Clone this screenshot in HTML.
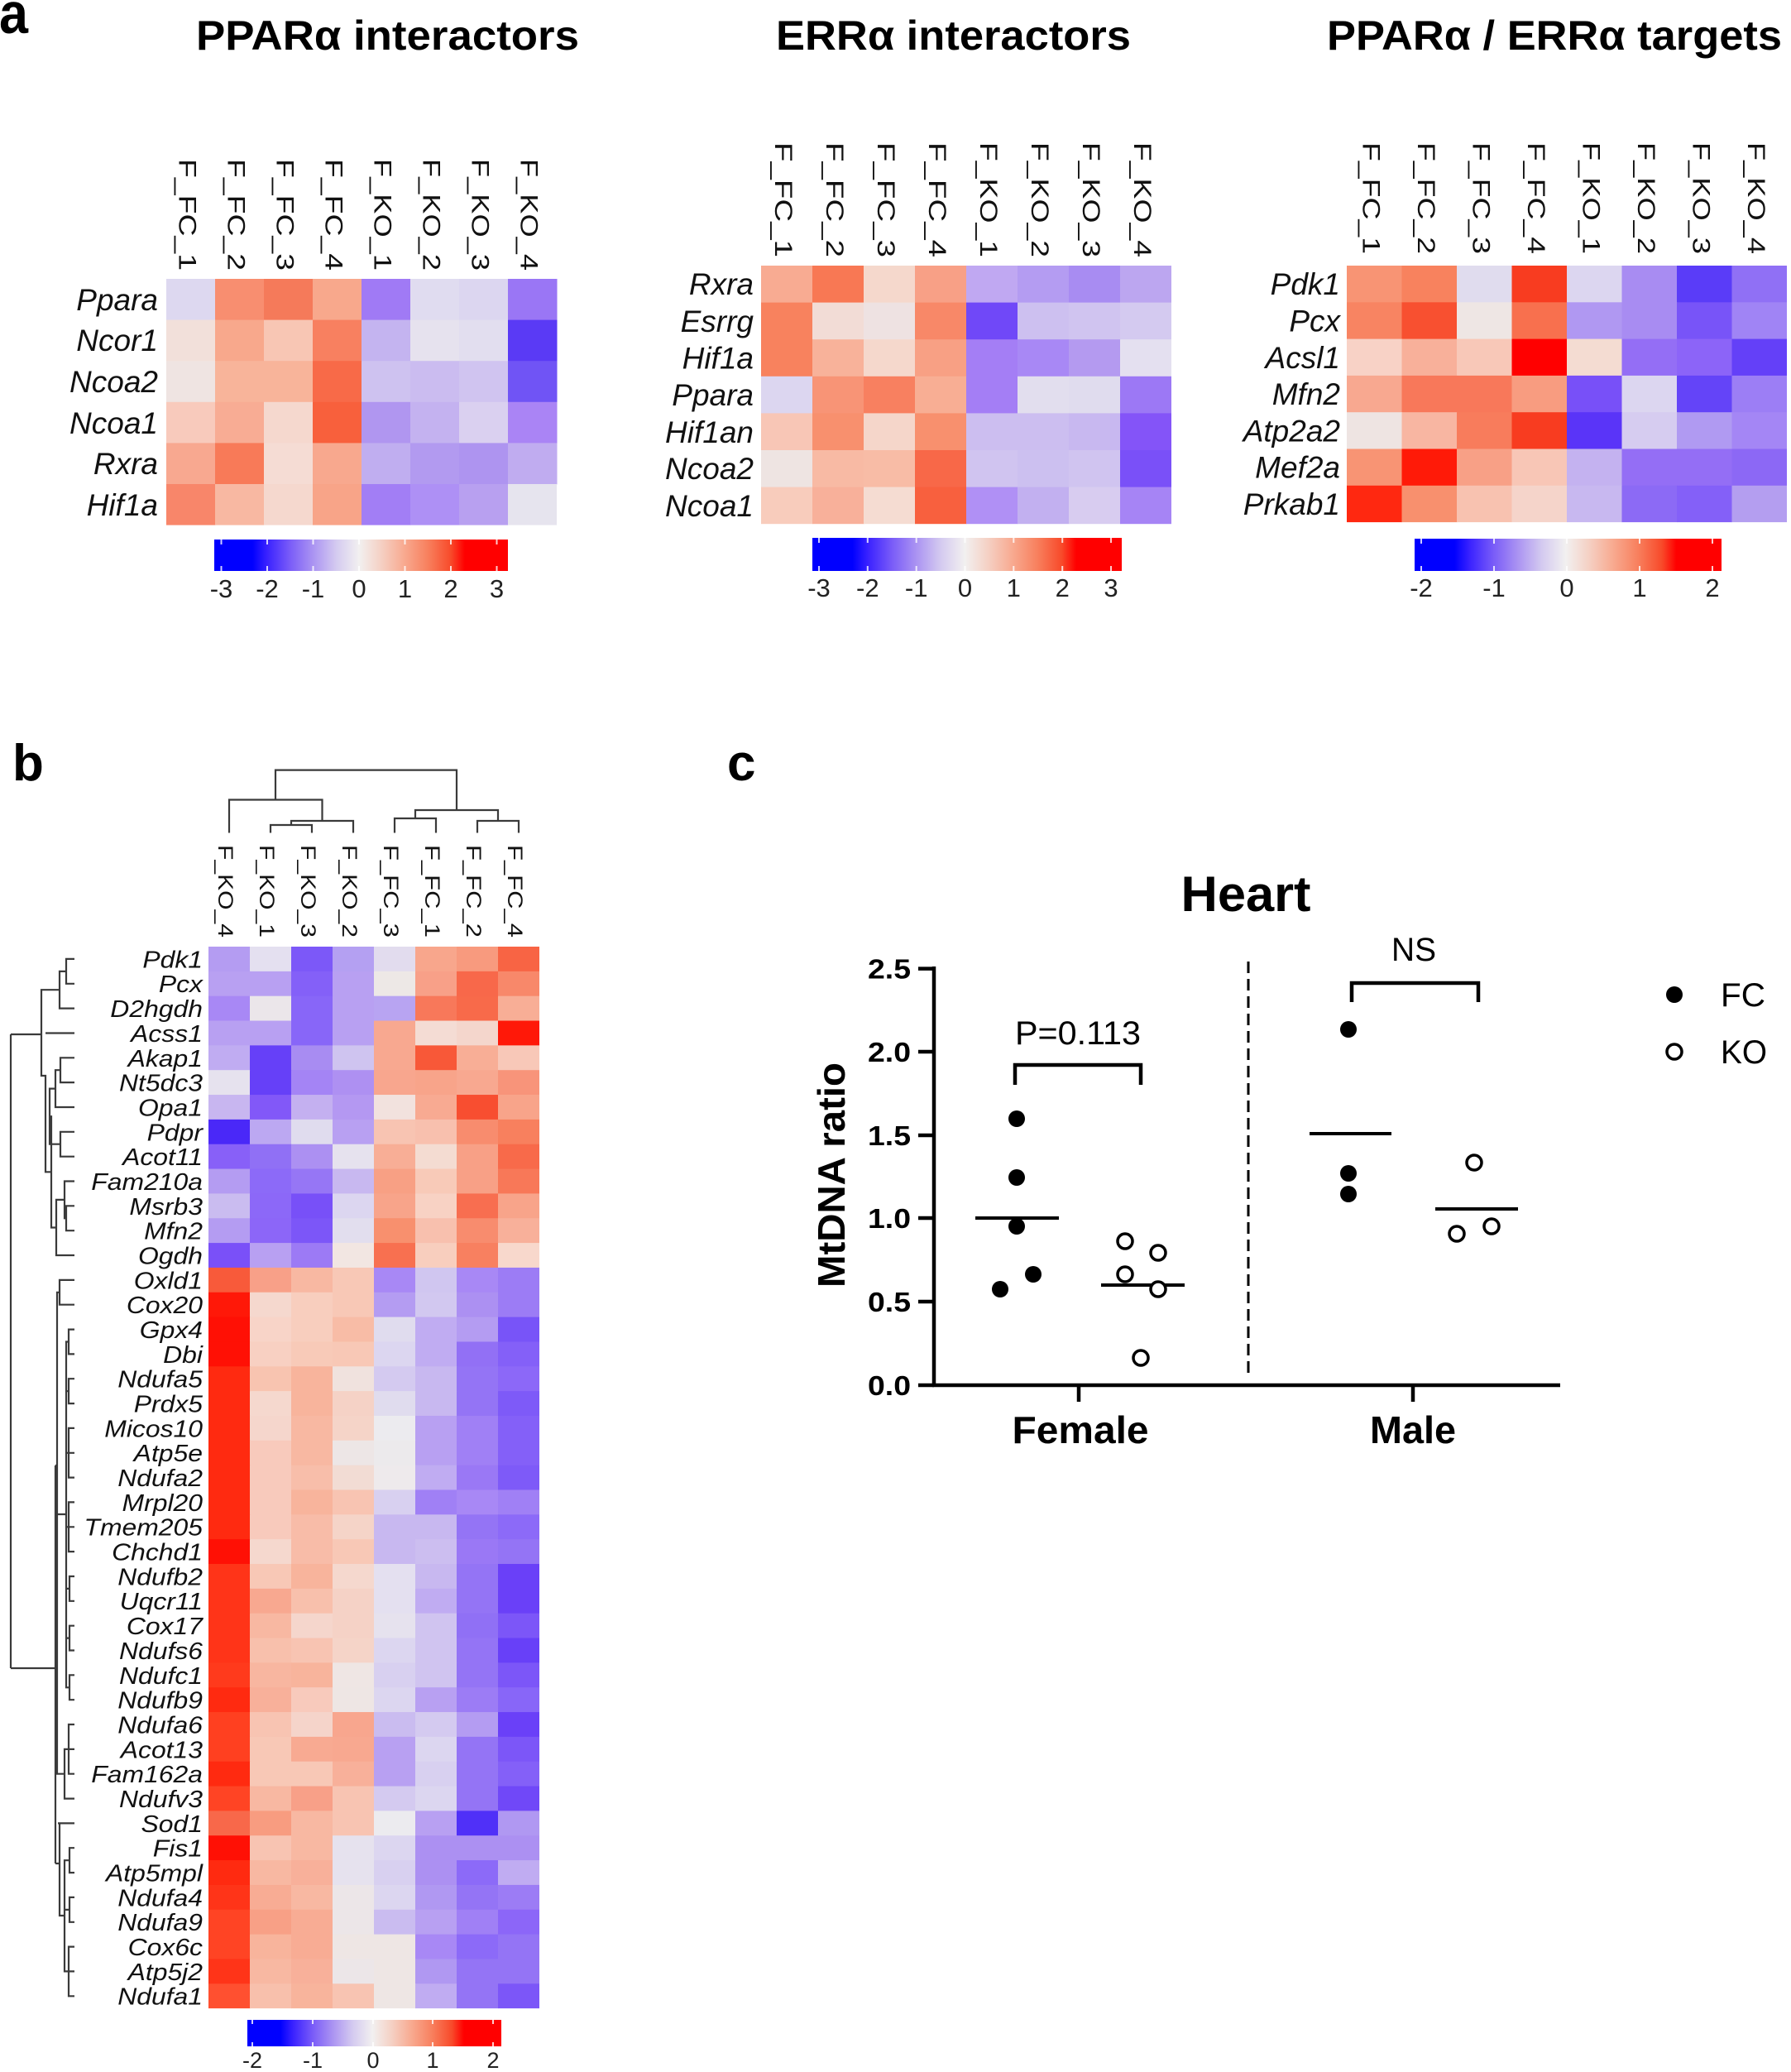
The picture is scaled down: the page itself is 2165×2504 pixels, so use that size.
<!DOCTYPE html>
<html><head><meta charset="utf-8"><style>
html,body{margin:0;padding:0;background:#fff}
svg{display:block}
text{font-family:"Liberation Sans",Arial,sans-serif}
</style></head><body>
<svg xmlns="http://www.w3.org/2000/svg" width="2165" height="2504" viewBox="0 0 2165 2504">
<defs>
<linearGradient id="cb" x1="0" y1="0" x2="1" y2="0">
<stop offset="0" stop-color="#0000ff"/><stop offset="0.13" stop-color="#0000ff"/><stop offset="0.18" stop-color="#3a22ff"/><stop offset="0.258" stop-color="#7a5cf8"/><stop offset="0.337" stop-color="#ab94f2"/><stop offset="0.415" stop-color="#d4caf0"/><stop offset="0.493" stop-color="#f2f0f0"/><stop offset="0.571" stop-color="#f5cfc2"/><stop offset="0.65" stop-color="#f8a88e"/><stop offset="0.727" stop-color="#f8805e"/><stop offset="0.806" stop-color="#f84a2a"/><stop offset="0.853" stop-color="#ff0000"/><stop offset="1" stop-color="#ff0000"/>
</linearGradient>
</defs>
<rect width="2165" height="2504" fill="#fff"/>

<!-- panel labels & titles -->
<text x="-1" y="40" font-size="70" font-weight="bold" textLength="35" lengthAdjust="spacingAndGlyphs">a</text>
<text x="15" y="943" font-size="62" font-weight="bold">b</text>
<text x="879" y="943" font-size="62" font-weight="bold">c</text>
<text x="237" y="60" font-size="50" font-weight="bold" textLength="463" lengthAdjust="spacingAndGlyphs">PPARα interactors</text>
<text x="938" y="60" font-size="50" font-weight="bold" textLength="429" lengthAdjust="spacingAndGlyphs">ERRα interactors</text>
<text x="1604" y="60" font-size="50" font-weight="bold" textLength="550" lengthAdjust="spacingAndGlyphs">PPARα / ERRα targets</text>

<!-- Heatmap 1 -->
<g transform="translate(201,337)">
<g><rect x="0" y="0" width="59.5" height="50" fill="#ddd8f0"/><rect x="59" y="0" width="59.5" height="50" fill="#f88e70"/><rect x="118" y="0" width="59.5" height="50" fill="#f57a5a"/><rect x="177" y="0" width="59.5" height="50" fill="#f8a88c"/><rect x="236" y="0" width="59.5" height="50" fill="#a07af5"/><rect x="295" y="0" width="59.5" height="50" fill="#e0dcf0"/><rect x="354" y="0" width="59.5" height="50" fill="#dcd6f0"/><rect x="413" y="0" width="59.5" height="50" fill="#9a76f5"/></g>
<g transform="translate(0,49.6)"><rect x="0" y="0" width="59.5" height="50" fill="#f2e0da"/><rect x="59" y="0" width="59.5" height="50" fill="#f8a88c"/><rect x="118" y="0" width="59.5" height="50" fill="#f8c6b4"/><rect x="177" y="0" width="59.5" height="50" fill="#f88060"/><rect x="236" y="0" width="59.5" height="50" fill="#c4b4f0"/><rect x="295" y="0" width="59.5" height="50" fill="#e6e2ee"/><rect x="354" y="0" width="59.5" height="50" fill="#e2deef"/><rect x="413" y="0" width="59.5" height="50" fill="#5a3af5"/></g>
<g transform="translate(0,99.2)"><rect x="0" y="0" width="59.5" height="50" fill="#efe4e2"/><rect x="59" y="0" width="59.5" height="50" fill="#f8b49a"/><rect x="118" y="0" width="59.5" height="50" fill="#f8b49a"/><rect x="177" y="0" width="59.5" height="50" fill="#f86a48"/><rect x="236" y="0" width="59.5" height="50" fill="#cec2f0"/><rect x="295" y="0" width="59.5" height="50" fill="#cbbcf0"/><rect x="354" y="0" width="59.5" height="50" fill="#d0c4f0"/><rect x="413" y="0" width="59.5" height="50" fill="#7054f5"/></g>
<g transform="translate(0,148.8)"><rect x="0" y="0" width="59.5" height="50" fill="#f8cabc"/><rect x="59" y="0" width="59.5" height="50" fill="#f8ac94"/><rect x="118" y="0" width="59.5" height="50" fill="#f5d8ce"/><rect x="177" y="0" width="59.5" height="50" fill="#f8603c"/><rect x="236" y="0" width="59.5" height="50" fill="#b096f0"/><rect x="295" y="0" width="59.5" height="50" fill="#c4b2f0"/><rect x="354" y="0" width="59.5" height="50" fill="#dad0f0"/><rect x="413" y="0" width="59.5" height="50" fill="#aa84f5"/></g>
<g transform="translate(0,198.4)"><rect x="0" y="0" width="59.5" height="50" fill="#f8a890"/><rect x="59" y="0" width="59.5" height="50" fill="#f87a58"/><rect x="118" y="0" width="59.5" height="50" fill="#f5dcd4"/><rect x="177" y="0" width="59.5" height="50" fill="#f8a88e"/><rect x="236" y="0" width="59.5" height="50" fill="#c0aef0"/><rect x="295" y="0" width="59.5" height="50" fill="#b29af0"/><rect x="354" y="0" width="59.5" height="50" fill="#ae94f0"/><rect x="413" y="0" width="59.5" height="50" fill="#c0acf0"/></g>
<g transform="translate(0,248)"><rect x="0" y="0" width="59.5" height="49.6" fill="#f8866a"/><rect x="59" y="0" width="59.5" height="49.6" fill="#f8b8a2"/><rect x="118" y="0" width="59.5" height="49.6" fill="#f5d8ce"/><rect x="177" y="0" width="59.5" height="49.6" fill="#f8a488"/><rect x="236" y="0" width="59.5" height="49.6" fill="#a27ef5"/><rect x="295" y="0" width="59.5" height="49.6" fill="#ae90f5"/><rect x="354" y="0" width="59.5" height="49.6" fill="#b8a0f0"/><rect x="413" y="0" width="59" height="49.6" fill="#e6e4ee"/></g>
</g>
<g font-size="37" font-style="italic" text-anchor="end" fill="#111">
<text x="191" y="375">Ppara</text><text x="191" y="424">Ncor1</text><text x="191" y="474">Ncoa2</text><text x="191" y="524">Ncoa1</text><text x="191" y="573">Rxra</text><text x="191" y="623">Hif1a</text>
</g>
<g font-size="30" text-anchor="end" fill="#111">
<text transform="translate(216.5,327) rotate(90)" textLength="135" lengthAdjust="spacingAndGlyphs">F_FC_1</text>
<text transform="translate(275.5,327) rotate(90)" textLength="135" lengthAdjust="spacingAndGlyphs">F_FC_2</text>
<text transform="translate(334.5,327) rotate(90)" textLength="135" lengthAdjust="spacingAndGlyphs">F_FC_3</text>
<text transform="translate(393.5,327) rotate(90)" textLength="135" lengthAdjust="spacingAndGlyphs">F_FC_4</text>
<text transform="translate(452.5,327) rotate(90)" textLength="135" lengthAdjust="spacingAndGlyphs">F_KO_1</text>
<text transform="translate(511.5,327) rotate(90)" textLength="135" lengthAdjust="spacingAndGlyphs">F_KO_2</text>
<text transform="translate(570.5,327) rotate(90)" textLength="135" lengthAdjust="spacingAndGlyphs">F_KO_3</text>
<text transform="translate(629.5,327) rotate(90)" textLength="135" lengthAdjust="spacingAndGlyphs">F_KO_4</text>
</g>
<rect x="259" y="652" width="355" height="38" fill="url(#cb)"/>
<g stroke="#fff" stroke-width="2" opacity="0.8">
<path d="M267.5 652v6M323 652v6M378.5 652v6M434 652v6M489.5 652v6M545 652v6M600.5 652v6M267.5 690v-6M323 690v-6M378.5 690v-6M434 690v-6M489.5 690v-6M545 690v-6M600.5 690v-6"/>
</g>
<g font-size="31" text-anchor="middle" fill="#222">
<text x="267.5" y="722">-3</text><text x="323" y="722">-2</text><text x="378.5" y="722">-1</text><text x="434" y="722">0</text><text x="489.5" y="722">1</text><text x="545" y="722">2</text><text x="600.5" y="722">3</text>
</g>

<!-- Heatmap 2 -->
<g transform="translate(920,321)">
<g><rect x="0" y="0" width="62.5" height="45.1" fill="#f8ab92"/><rect x="62" y="0" width="62.5" height="45.1" fill="#f87854"/><rect x="124" y="0" width="62.5" height="45.1" fill="#f5d8cc"/><rect x="186" y="0" width="62.5" height="45.1" fill="#f8a086"/><rect x="248" y="0" width="62.5" height="45.1" fill="#c0a8f2"/><rect x="310" y="0" width="62.5" height="45.1" fill="#b49cf2"/><rect x="372" y="0" width="62.5" height="45.1" fill="#a88cf2"/><rect x="434" y="0" width="62" height="45.1" fill="#bca6f0"/></g>
<g transform="translate(0,44.6)"><rect x="0" y="0" width="62.5" height="45.1" fill="#f8825e"/><rect x="62" y="0" width="62.5" height="45.1" fill="#f2dcd6"/><rect x="124" y="0" width="62.5" height="45.1" fill="#eee2e2"/><rect x="186" y="0" width="62.5" height="45.1" fill="#f88868"/><rect x="248" y="0" width="62.5" height="45.1" fill="#7048f8"/><rect x="310" y="0" width="62.5" height="45.1" fill="#cdc0f0"/><rect x="372" y="0" width="62.5" height="45.1" fill="#d0c4f0"/><rect x="434" y="0" width="62" height="45.1" fill="#d4caf0"/></g>
<g transform="translate(0,89.2)"><rect x="0" y="0" width="62.5" height="45.1" fill="#f8825e"/><rect x="62" y="0" width="62.5" height="45.1" fill="#f8b29a"/><rect x="124" y="0" width="62.5" height="45.1" fill="#f5d8cc"/><rect x="186" y="0" width="62.5" height="45.1" fill="#f8a084"/><rect x="248" y="0" width="62.5" height="45.1" fill="#a47ef5"/><rect x="310" y="0" width="62.5" height="45.1" fill="#a888f5"/><rect x="372" y="0" width="62.5" height="45.1" fill="#b49af0"/><rect x="434" y="0" width="62" height="45.1" fill="#e4e0f0"/></g>
<g transform="translate(0,133.8)"><rect x="0" y="0" width="62.5" height="45.1" fill="#dcd6f0"/><rect x="62" y="0" width="62.5" height="45.1" fill="#f89476"/><rect x="124" y="0" width="62.5" height="45.1" fill="#f88060"/><rect x="186" y="0" width="62.5" height="45.1" fill="#f8ae94"/><rect x="248" y="0" width="62.5" height="45.1" fill="#a47ef5"/><rect x="310" y="0" width="62.5" height="45.1" fill="#e2deee"/><rect x="372" y="0" width="62.5" height="45.1" fill="#e0dcee"/><rect x="434" y="0" width="62" height="45.1" fill="#9c78f5"/></g>
<g transform="translate(0,178.4)"><rect x="0" y="0" width="62.5" height="45.1" fill="#f8c6b6"/><rect x="62" y="0" width="62.5" height="45.1" fill="#f8906e"/><rect x="124" y="0" width="62.5" height="45.1" fill="#f5d6ca"/><rect x="186" y="0" width="62.5" height="45.1" fill="#f8906e"/><rect x="248" y="0" width="62.5" height="45.1" fill="#ccbef0"/><rect x="310" y="0" width="62.5" height="45.1" fill="#ccbef0"/><rect x="372" y="0" width="62.5" height="45.1" fill="#c8b8f0"/><rect x="434" y="0" width="62" height="45.1" fill="#8454f8"/></g>
<g transform="translate(0,223)"><rect x="0" y="0" width="62.5" height="45.1" fill="#eee4e2"/><rect x="62" y="0" width="62.5" height="45.1" fill="#f8baa4"/><rect x="124" y="0" width="62.5" height="45.1" fill="#f8bca6"/><rect x="186" y="0" width="62.5" height="45.1" fill="#f86848"/><rect x="248" y="0" width="62.5" height="45.1" fill="#d0c4f0"/><rect x="310" y="0" width="62.5" height="45.1" fill="#ccc0f0"/><rect x="372" y="0" width="62.5" height="45.1" fill="#d0c4f0"/><rect x="434" y="0" width="62" height="45.1" fill="#7a50f8"/></g>
<g transform="translate(0,267.6)"><rect x="0" y="0" width="62.5" height="44.6" fill="#f8ccbc"/><rect x="62" y="0" width="62.5" height="44.6" fill="#f8b09a"/><rect x="124" y="0" width="62.5" height="44.6" fill="#f5dcd2"/><rect x="186" y="0" width="62.5" height="44.6" fill="#f8603e"/><rect x="248" y="0" width="62.5" height="44.6" fill="#b090f5"/><rect x="310" y="0" width="62.5" height="44.6" fill="#c2b0f0"/><rect x="372" y="0" width="62.5" height="44.6" fill="#d8ccf0"/><rect x="434" y="0" width="62" height="44.6" fill="#a684f5"/></g>
</g>
<g font-size="37" font-style="italic" text-anchor="end" fill="#111">
<text x="911" y="356">Rxra</text><text x="911" y="401">Esrrg</text><text x="911" y="445.5">Hif1a</text><text x="911" y="490">Ppara</text><text x="911" y="535">Hif1an</text><text x="911" y="579">Ncoa2</text><text x="911" y="624">Ncoa1</text>
</g>
<g font-size="30" text-anchor="end" fill="#111">
<text transform="translate(937,311) rotate(90)" textLength="139" lengthAdjust="spacingAndGlyphs">F_FC_1</text>
<text transform="translate(999,311) rotate(90)" textLength="139" lengthAdjust="spacingAndGlyphs">F_FC_2</text>
<text transform="translate(1061,311) rotate(90)" textLength="139" lengthAdjust="spacingAndGlyphs">F_FC_3</text>
<text transform="translate(1123,311) rotate(90)" textLength="139" lengthAdjust="spacingAndGlyphs">F_FC_4</text>
<text transform="translate(1185,311) rotate(90)" textLength="139" lengthAdjust="spacingAndGlyphs">F_KO_1</text>
<text transform="translate(1247,311) rotate(90)" textLength="139" lengthAdjust="spacingAndGlyphs">F_KO_2</text>
<text transform="translate(1309,311) rotate(90)" textLength="139" lengthAdjust="spacingAndGlyphs">F_KO_3</text>
<text transform="translate(1371,311) rotate(90)" textLength="139" lengthAdjust="spacingAndGlyphs">F_KO_4</text>
</g>
<rect x="982" y="650" width="374" height="40" fill="url(#cb)"/>
<g stroke="#fff" stroke-width="2" opacity="0.8">
<path d="M990 650v6M1048.8 650v6M1107.7 650v6M1166.5 650v6M1225.3 650v6M1284.2 650v6M1343 650v6M990 690v-6M1048.8 690v-6M1107.7 690v-6M1166.5 690v-6M1225.3 690v-6M1284.2 690v-6M1343 690v-6"/>
</g>
<g font-size="31" text-anchor="middle" fill="#222">
<text x="990" y="721">-3</text><text x="1048.8" y="721">-2</text><text x="1107.7" y="721">-1</text><text x="1166.5" y="721">0</text><text x="1225.3" y="721">1</text><text x="1284.2" y="721">2</text><text x="1343" y="721">3</text>
</g>

<!-- Heatmap 3 -->
<g transform="translate(1628,321)">
<g><rect x="0" y="0" width="67" height="44.8" fill="#f89474"/><rect x="66.5" y="0" width="67" height="44.8" fill="#f8825e"/><rect x="133" y="0" width="67" height="44.8" fill="#e0dcee"/><rect x="199.5" y="0" width="67" height="44.8" fill="#f83c20"/><rect x="266" y="0" width="67" height="44.8" fill="#dcd6f0"/><rect x="332.5" y="0" width="67" height="44.8" fill="#a88cf2"/><rect x="399" y="0" width="67" height="44.8" fill="#5a3cf8"/><rect x="465.5" y="0" width="66.5" height="44.8" fill="#9070f5"/></g>
<g transform="translate(0,44.3)"><rect x="0" y="0" width="67" height="44.8" fill="#f88462"/><rect x="66.5" y="0" width="67" height="44.8" fill="#f85030"/><rect x="133" y="0" width="67" height="44.8" fill="#eee6e4"/><rect x="199.5" y="0" width="67" height="44.8" fill="#f8704e"/><rect x="266" y="0" width="67" height="44.8" fill="#b098f2"/><rect x="332.5" y="0" width="67" height="44.8" fill="#a88cf2"/><rect x="399" y="0" width="67" height="44.8" fill="#7854f8"/><rect x="465.5" y="0" width="66.5" height="44.8" fill="#a084f5"/></g>
<g transform="translate(0,88.6)"><rect x="0" y="0" width="67" height="44.8" fill="#f8d2c6"/><rect x="66.5" y="0" width="67" height="44.8" fill="#f8b09a"/><rect x="133" y="0" width="67" height="44.8" fill="#f8c8b8"/><rect x="199.5" y="0" width="67" height="44.8" fill="#ff0000"/><rect x="266" y="0" width="67" height="44.8" fill="#f4dcd2"/><rect x="332.5" y="0" width="67" height="44.8" fill="#946ef5"/><rect x="399" y="0" width="67" height="44.8" fill="#8c64f8"/><rect x="465.5" y="0" width="66.5" height="44.8" fill="#6440f8"/></g>
<g transform="translate(0,132.9)"><rect x="0" y="0" width="67" height="44.8" fill="#f8a890"/><rect x="66.5" y="0" width="67" height="44.8" fill="#f8785a"/><rect x="133" y="0" width="67" height="44.8" fill="#f8785a"/><rect x="199.5" y="0" width="67" height="44.8" fill="#f89c80"/><rect x="266" y="0" width="67" height="44.8" fill="#7850f8"/><rect x="332.5" y="0" width="67" height="44.8" fill="#dcd6f0"/><rect x="399" y="0" width="67" height="44.8" fill="#6444f8"/><rect x="465.5" y="0" width="66.5" height="44.8" fill="#9c7ef5"/></g>
<g transform="translate(0,177.2)"><rect x="0" y="0" width="67" height="44.8" fill="#eee4e2"/><rect x="66.5" y="0" width="67" height="44.8" fill="#f8b6a2"/><rect x="133" y="0" width="67" height="44.8" fill="#f87c5c"/><rect x="199.5" y="0" width="67" height="44.8" fill="#f83c20"/><rect x="266" y="0" width="67" height="44.8" fill="#5a34f8"/><rect x="332.5" y="0" width="67" height="44.8" fill="#d6ccf0"/><rect x="399" y="0" width="67" height="44.8" fill="#b09af2"/><rect x="465.5" y="0" width="66.5" height="44.8" fill="#a486f5"/></g>
<g transform="translate(0,221.5)"><rect x="0" y="0" width="67" height="44.8" fill="#f89474"/><rect x="66.5" y="0" width="67" height="44.8" fill="#ff1a08"/><rect x="133" y="0" width="67" height="44.8" fill="#f8a086"/><rect x="199.5" y="0" width="67" height="44.8" fill="#f8c6b6"/><rect x="266" y="0" width="67" height="44.8" fill="#c4b2f0"/><rect x="332.5" y="0" width="67" height="44.8" fill="#946ef5"/><rect x="399" y="0" width="67" height="44.8" fill="#946ef5"/><rect x="465.5" y="0" width="66.5" height="44.8" fill="#8c68f5"/></g>
<g transform="translate(0,265.8)"><rect x="0" y="0" width="67" height="44.3" fill="#ff2810"/><rect x="66.5" y="0" width="67" height="44.3" fill="#f8906e"/><rect x="133" y="0" width="67" height="44.3" fill="#f8c2b0"/><rect x="199.5" y="0" width="67" height="44.3" fill="#f5d4ca"/><rect x="266" y="0" width="67" height="44.3" fill="#c8b8f0"/><rect x="332.5" y="0" width="67" height="44.3" fill="#8c6af5"/><rect x="399" y="0" width="67" height="44.3" fill="#8460f8"/><rect x="465.5" y="0" width="66.5" height="44.3" fill="#b49ef0"/></g>
</g>
<g font-size="37" font-style="italic" text-anchor="end" fill="#111">
<text x="1620" y="356">Pdk1</text><text x="1620" y="400.5">Pcx</text><text x="1620" y="445">Acsl1</text><text x="1620" y="489">Mfn2</text><text x="1620" y="533.5">Atp2a2</text><text x="1620" y="577.5">Mef2a</text><text x="1620" y="622">Prkab1</text>
</g>
<g font-size="30" text-anchor="end" fill="#111">
<text transform="translate(1647.3,307) rotate(90)" textLength="135" lengthAdjust="spacingAndGlyphs">F_FC_1</text>
<text transform="translate(1713.8,307) rotate(90)" textLength="135" lengthAdjust="spacingAndGlyphs">F_FC_2</text>
<text transform="translate(1780.3,307) rotate(90)" textLength="135" lengthAdjust="spacingAndGlyphs">F_FC_3</text>
<text transform="translate(1846.8,307) rotate(90)" textLength="135" lengthAdjust="spacingAndGlyphs">F_FC_4</text>
<text transform="translate(1913.3,307) rotate(90)" textLength="135" lengthAdjust="spacingAndGlyphs">F_KO_1</text>
<text transform="translate(1979.8,307) rotate(90)" textLength="135" lengthAdjust="spacingAndGlyphs">F_KO_2</text>
<text transform="translate(2046.3,307) rotate(90)" textLength="135" lengthAdjust="spacingAndGlyphs">F_KO_3</text>
<text transform="translate(2112.8,307) rotate(90)" textLength="135" lengthAdjust="spacingAndGlyphs">F_KO_4</text>
</g>
<rect x="1710" y="651" width="371" height="39" fill="url(#cb)"/>
<g stroke="#fff" stroke-width="2" opacity="0.8">
<path d="M1718 651v6M1806 651v6M1894 651v6M1982 651v6M2070 651v6M1718 690v-6M1806 690v-6M1894 690v-6M1982 690v-6M2070 690v-6"/>
</g>
<g font-size="31" text-anchor="middle" fill="#222">
<text x="1718" y="721">-2</text><text x="1806" y="721">-1</text><text x="1894" y="721">0</text><text x="1982" y="721">1</text><text x="2070" y="721">2</text>
</g>

<!-- Panel b heatmap -->
<g transform="translate(252,1144)">
<g transform="translate(0,0)"><rect x="0" width="50.5" height="30.3" fill="#b49cf2"/><rect x="50" width="50.5" height="30.3" fill="#e4e0f0"/><rect x="100" width="50.5" height="30.3" fill="#7c58f8"/><rect x="150" width="50.5" height="30.3" fill="#b4a0f2"/><rect x="200" width="50.5" height="30.3" fill="#e2dcee"/><rect x="250" width="50.5" height="30.3" fill="#f8a68c"/><rect x="300" width="50.5" height="30.3" fill="#f89a7e"/><rect x="350" width="50" height="30.3" fill="#f86444"/></g>
<g transform="translate(0,29.84)"><rect x="0" width="50.5" height="30.3" fill="#b8a0f2"/><rect x="50" width="50.5" height="30.3" fill="#b8a0f2"/><rect x="100" width="50.5" height="30.3" fill="#8460f8"/><rect x="150" width="50.5" height="30.3" fill="#b8a0f2"/><rect x="200" width="50.5" height="30.3" fill="#ede8e6"/><rect x="250" width="50.5" height="30.3" fill="#f8a088"/><rect x="300" width="50.5" height="30.3" fill="#f8684a"/><rect x="350" width="50" height="30.3" fill="#f8886a"/></g>
<g transform="translate(0,59.68)"><rect x="0" width="50.5" height="30.3" fill="#a888f5"/><rect x="50" width="50.5" height="30.3" fill="#ebe6ea"/><rect x="100" width="50.5" height="30.3" fill="#8866f8"/><rect x="150" width="50.5" height="30.3" fill="#b8a0f2"/><rect x="200" width="50.5" height="30.3" fill="#b8a4f2"/><rect x="250" width="50.5" height="30.3" fill="#f8785a"/><rect x="300" width="50.5" height="30.3" fill="#f86a4a"/><rect x="350" width="50" height="30.3" fill="#f8ae96"/></g>
<g transform="translate(0,89.52)"><rect x="0" width="50.5" height="30.3" fill="#b8a0f2"/><rect x="50" width="50.5" height="30.3" fill="#b8a0f2"/><rect x="100" width="50.5" height="30.3" fill="#8866f8"/><rect x="150" width="50.5" height="30.3" fill="#b8a0f2"/><rect x="200" width="50.5" height="30.3" fill="#f8a890"/><rect x="250" width="50.5" height="30.3" fill="#f4dcd4"/><rect x="300" width="50.5" height="30.3" fill="#f4d6cc"/><rect x="350" width="50" height="30.3" fill="#ff1808"/></g>
<g transform="translate(0,119.36)"><rect x="0" width="50.5" height="30.3" fill="#c0acf2"/><rect x="50" width="50.5" height="30.3" fill="#6640f8"/><rect x="100" width="50.5" height="30.3" fill="#a88cf2"/><rect x="150" width="50.5" height="30.3" fill="#cfc4f0"/><rect x="200" width="50.5" height="30.3" fill="#f8a890"/><rect x="250" width="50.5" height="30.3" fill="#f85838"/><rect x="300" width="50.5" height="30.3" fill="#f8ae96"/><rect x="350" width="50" height="30.3" fill="#f8c8b8"/></g>
<g transform="translate(0,149.2)"><rect x="0" width="50.5" height="30.3" fill="#e6e2ee"/><rect x="50" width="50.5" height="30.3" fill="#6640f8"/><rect x="100" width="50.5" height="30.3" fill="#a484f5"/><rect x="150" width="50.5" height="30.3" fill="#ae90f2"/><rect x="200" width="50.5" height="30.3" fill="#f8a68e"/><rect x="250" width="50.5" height="30.3" fill="#f8a48a"/><rect x="300" width="50.5" height="30.3" fill="#f8a890"/><rect x="350" width="50" height="30.3" fill="#f8947a"/></g>
<g transform="translate(0,179.04)"><rect x="0" width="50.5" height="30.3" fill="#c8b6f0"/><rect x="50" width="50.5" height="30.3" fill="#8258f8"/><rect x="100" width="50.5" height="30.3" fill="#c4b0f0"/><rect x="150" width="50.5" height="30.3" fill="#b498f2"/><rect x="200" width="50.5" height="30.3" fill="#f2e2de"/><rect x="250" width="50.5" height="30.3" fill="#f8aa92"/><rect x="300" width="50.5" height="30.3" fill="#f84e30"/><rect x="350" width="50" height="30.3" fill="#f8a48a"/></g>
<g transform="translate(0,208.88)"><rect x="0" width="50.5" height="30.3" fill="#4a28f8"/><rect x="50" width="50.5" height="30.3" fill="#bca8f2"/><rect x="100" width="50.5" height="30.3" fill="#e0dcee"/><rect x="150" width="50.5" height="30.3" fill="#b8a0f2"/><rect x="200" width="50.5" height="30.3" fill="#f8c4b2"/><rect x="250" width="50.5" height="30.3" fill="#f8c0ae"/><rect x="300" width="50.5" height="30.3" fill="#f88c6e"/><rect x="350" width="50" height="30.3" fill="#f8805e"/></g>
<g transform="translate(0,238.72)"><rect x="0" width="50.5" height="30.3" fill="#8860f8"/><rect x="50" width="50.5" height="30.3" fill="#9070f5"/><rect x="100" width="50.5" height="30.3" fill="#ac90f2"/><rect x="150" width="50.5" height="30.3" fill="#e6e2ee"/><rect x="200" width="50.5" height="30.3" fill="#f8ae96"/><rect x="250" width="50.5" height="30.3" fill="#f4dcd2"/><rect x="300" width="50.5" height="30.3" fill="#f8a086"/><rect x="350" width="50" height="30.3" fill="#f86a4a"/></g>
<g transform="translate(0,268.56)"><rect x="0" width="50.5" height="30.3" fill="#b49cf2"/><rect x="50" width="50.5" height="30.3" fill="#8c6af8"/><rect x="100" width="50.5" height="30.3" fill="#9676f5"/><rect x="150" width="50.5" height="30.3" fill="#c8b8f0"/><rect x="200" width="50.5" height="30.3" fill="#f8a084"/><rect x="250" width="50.5" height="30.3" fill="#f8cab8"/><rect x="300" width="50.5" height="30.3" fill="#f8a086"/><rect x="350" width="50" height="30.3" fill="#f87858"/></g>
<g transform="translate(0,298.4)"><rect x="0" width="50.5" height="30.3" fill="#cabcf0"/><rect x="50" width="50.5" height="30.3" fill="#8c68f8"/><rect x="100" width="50.5" height="30.3" fill="#7850f8"/><rect x="150" width="50.5" height="30.3" fill="#dcd6f0"/><rect x="200" width="50.5" height="30.3" fill="#f8a48a"/><rect x="250" width="50.5" height="30.3" fill="#f8d2c4"/><rect x="300" width="50.5" height="30.3" fill="#f86e50"/><rect x="350" width="50" height="30.3" fill="#f8a48a"/></g>
<g transform="translate(0,328.24)"><rect x="0" width="50.5" height="30.3" fill="#b49cf2"/><rect x="50" width="50.5" height="30.3" fill="#8c66f8"/><rect x="100" width="50.5" height="30.3" fill="#7c56f8"/><rect x="150" width="50.5" height="30.3" fill="#e2deee"/><rect x="200" width="50.5" height="30.3" fill="#f8906e"/><rect x="250" width="50.5" height="30.3" fill="#f8c0ae"/><rect x="300" width="50.5" height="30.3" fill="#f88c6e"/><rect x="350" width="50" height="30.3" fill="#f8b09a"/></g>
<g transform="translate(0,358.08)"><rect x="0" width="50.5" height="30.3" fill="#7a50f8"/><rect x="50" width="50.5" height="30.3" fill="#b8a0f2"/><rect x="100" width="50.5" height="30.3" fill="#9c7af5"/><rect x="150" width="50.5" height="30.3" fill="#f2e6e2"/><rect x="200" width="50.5" height="30.3" fill="#f87050"/><rect x="250" width="50.5" height="30.3" fill="#f8cebe"/><rect x="300" width="50.5" height="30.3" fill="#f88060"/><rect x="350" width="50" height="30.3" fill="#f8d8cc"/></g>
<g transform="translate(0,387.92)"><rect x="0" width="50.5" height="30.3" fill="#f85a3a"/><rect x="50" width="50.5" height="30.3" fill="#f8a088"/><rect x="100" width="50.5" height="30.3" fill="#f8b8a2"/><rect x="150" width="50.5" height="30.3" fill="#f8c8b6"/><rect x="200" width="50.5" height="30.3" fill="#a888f5"/><rect x="250" width="50.5" height="30.3" fill="#d0c6f0"/><rect x="300" width="50.5" height="30.3" fill="#a888f5"/><rect x="350" width="50" height="30.3" fill="#9c7cf5"/></g>
<g transform="translate(0,417.76)"><rect x="0" width="50.5" height="30.3" fill="#ff1808"/><rect x="50" width="50.5" height="30.3" fill="#f5d8ce"/><rect x="100" width="50.5" height="30.3" fill="#f8cebe"/><rect x="150" width="50.5" height="30.3" fill="#f8c8b6"/><rect x="200" width="50.5" height="30.3" fill="#b49cf2"/><rect x="250" width="50.5" height="30.3" fill="#d2c8f0"/><rect x="300" width="50.5" height="30.3" fill="#ac90f2"/><rect x="350" width="50" height="30.3" fill="#9c7cf5"/></g>
<g transform="translate(0,447.6)"><rect x="0" width="50.5" height="30.3" fill="#ff1005"/><rect x="50" width="50.5" height="30.3" fill="#f8d4c8"/><rect x="100" width="50.5" height="30.3" fill="#f8cebe"/><rect x="150" width="50.5" height="30.3" fill="#f8bca6"/><rect x="200" width="50.5" height="30.3" fill="#e0dcee"/><rect x="250" width="50.5" height="30.3" fill="#c0acf2"/><rect x="300" width="50.5" height="30.3" fill="#b49cf2"/><rect x="350" width="50" height="30.3" fill="#7854f8"/></g>
<g transform="translate(0,477.44)"><rect x="0" width="50.5" height="30.3" fill="#ff1005"/><rect x="50" width="50.5" height="30.3" fill="#f8d0c2"/><rect x="100" width="50.5" height="30.3" fill="#f8cab8"/><rect x="150" width="50.5" height="30.3" fill="#f8c8b6"/><rect x="200" width="50.5" height="30.3" fill="#dcd6f0"/><rect x="250" width="50.5" height="30.3" fill="#c0acf2"/><rect x="300" width="50.5" height="30.3" fill="#9270f5"/><rect x="350" width="50" height="30.3" fill="#8460f8"/></g>
<g transform="translate(0,507.28)"><rect x="0" width="50.5" height="30.3" fill="#ff2a10"/><rect x="50" width="50.5" height="30.3" fill="#f8c4b0"/><rect x="100" width="50.5" height="30.3" fill="#f8b49c"/><rect x="150" width="50.5" height="30.3" fill="#f0e2de"/><rect x="200" width="50.5" height="30.3" fill="#d4caf0"/><rect x="250" width="50.5" height="30.3" fill="#c8b8f0"/><rect x="300" width="50.5" height="30.3" fill="#9474f5"/><rect x="350" width="50" height="30.3" fill="#8c68f8"/></g>
<g transform="translate(0,537.12)"><rect x="0" width="50.5" height="30.3" fill="#ff2a10"/><rect x="50" width="50.5" height="30.3" fill="#f5d8ce"/><rect x="100" width="50.5" height="30.3" fill="#f8b49c"/><rect x="150" width="50.5" height="30.3" fill="#f5d2c6"/><rect x="200" width="50.5" height="30.3" fill="#e0dcee"/><rect x="250" width="50.5" height="30.3" fill="#c8b8f0"/><rect x="300" width="50.5" height="30.3" fill="#9474f5"/><rect x="350" width="50" height="30.3" fill="#7e5af8"/></g>
<g transform="translate(0,566.96)"><rect x="0" width="50.5" height="30.3" fill="#ff2a10"/><rect x="50" width="50.5" height="30.3" fill="#f5d6cc"/><rect x="100" width="50.5" height="30.3" fill="#f8b8a2"/><rect x="150" width="50.5" height="30.3" fill="#f5d4c8"/><rect x="200" width="50.5" height="30.3" fill="#ecebef"/><rect x="250" width="50.5" height="30.3" fill="#b8a0f2"/><rect x="300" width="50.5" height="30.3" fill="#a080f5"/><rect x="350" width="50" height="30.3" fill="#8460f8"/></g>
<g transform="translate(0,596.8)"><rect x="0" width="50.5" height="30.3" fill="#ff2a10"/><rect x="50" width="50.5" height="30.3" fill="#f8cabc"/><rect x="100" width="50.5" height="30.3" fill="#f8b8a2"/><rect x="150" width="50.5" height="30.3" fill="#ede6e6"/><rect x="200" width="50.5" height="30.3" fill="#eceaec"/><rect x="250" width="50.5" height="30.3" fill="#b8a0f2"/><rect x="300" width="50.5" height="30.3" fill="#a080f5"/><rect x="350" width="50" height="30.3" fill="#8460f8"/></g>
<g transform="translate(0,626.64)"><rect x="0" width="50.5" height="30.3" fill="#ff2a10"/><rect x="50" width="50.5" height="30.3" fill="#f8cabc"/><rect x="100" width="50.5" height="30.3" fill="#f8beaa"/><rect x="150" width="50.5" height="30.3" fill="#f2dcd4"/><rect x="200" width="50.5" height="30.3" fill="#eeeaec"/><rect x="250" width="50.5" height="30.3" fill="#c0acf2"/><rect x="300" width="50.5" height="30.3" fill="#9a78f5"/><rect x="350" width="50" height="30.3" fill="#7e5af8"/></g>
<g transform="translate(0,656.48)"><rect x="0" width="50.5" height="30.3" fill="#ff2a10"/><rect x="50" width="50.5" height="30.3" fill="#f8cabc"/><rect x="100" width="50.5" height="30.3" fill="#f8b49c"/><rect x="150" width="50.5" height="30.3" fill="#f8c4b2"/><rect x="200" width="50.5" height="30.3" fill="#d8d0f0"/><rect x="250" width="50.5" height="30.3" fill="#a080f5"/><rect x="300" width="50.5" height="30.3" fill="#a888f5"/><rect x="350" width="50" height="30.3" fill="#a080f5"/></g>
<g transform="translate(0,686.32)"><rect x="0" width="50.5" height="30.3" fill="#ff2a10"/><rect x="50" width="50.5" height="30.3" fill="#f8cabc"/><rect x="100" width="50.5" height="30.3" fill="#f8bca8"/><rect x="150" width="50.5" height="30.3" fill="#f5d4c8"/><rect x="200" width="50.5" height="30.3" fill="#c8b8f0"/><rect x="250" width="50.5" height="30.3" fill="#c8b8f0"/><rect x="300" width="50.5" height="30.3" fill="#9474f5"/><rect x="350" width="50" height="30.3" fill="#8c6af8"/></g>
<g transform="translate(0,716.16)"><rect x="0" width="50.5" height="30.3" fill="#ff1005"/><rect x="50" width="50.5" height="30.3" fill="#f5d8ce"/><rect x="100" width="50.5" height="30.3" fill="#f8bca8"/><rect x="150" width="50.5" height="30.3" fill="#f8c8b6"/><rect x="200" width="50.5" height="30.3" fill="#c8b8f0"/><rect x="250" width="50.5" height="30.3" fill="#ccbef0"/><rect x="300" width="50.5" height="30.3" fill="#9a78f5"/><rect x="350" width="50" height="30.3" fill="#9474f5"/></g>
<g transform="translate(0,746)"><rect x="0" width="50.5" height="30.3" fill="#ff3418"/><rect x="50" width="50.5" height="30.3" fill="#f8c8b6"/><rect x="100" width="50.5" height="30.3" fill="#f8b49c"/><rect x="150" width="50.5" height="30.3" fill="#f5d8ce"/><rect x="200" width="50.5" height="30.3" fill="#e4e0f0"/><rect x="250" width="50.5" height="30.3" fill="#c8b8f0"/><rect x="300" width="50.5" height="30.3" fill="#9474f5"/><rect x="350" width="50" height="30.3" fill="#6a40f8"/></g>
<g transform="translate(0,775.84)"><rect x="0" width="50.5" height="30.3" fill="#ff3418"/><rect x="50" width="50.5" height="30.3" fill="#f8a890"/><rect x="100" width="50.5" height="30.3" fill="#f8c0ac"/><rect x="150" width="50.5" height="30.3" fill="#f5d2c6"/><rect x="200" width="50.5" height="30.3" fill="#e4e0f0"/><rect x="250" width="50.5" height="30.3" fill="#c0acf2"/><rect x="300" width="50.5" height="30.3" fill="#9474f5"/><rect x="350" width="50" height="30.3" fill="#6a40f8"/></g>
<g transform="translate(0,805.68)"><rect x="0" width="50.5" height="30.3" fill="#ff3418"/><rect x="50" width="50.5" height="30.3" fill="#f8b8a2"/><rect x="100" width="50.5" height="30.3" fill="#f5d6cc"/><rect x="150" width="50.5" height="30.3" fill="#f5d2c6"/><rect x="200" width="50.5" height="30.3" fill="#e6e2ee"/><rect x="250" width="50.5" height="30.3" fill="#d0c4f0"/><rect x="300" width="50.5" height="30.3" fill="#9070f5"/><rect x="350" width="50" height="30.3" fill="#7c56f8"/></g>
<g transform="translate(0,835.52)"><rect x="0" width="50.5" height="30.3" fill="#ff3418"/><rect x="50" width="50.5" height="30.3" fill="#f8c0ac"/><rect x="100" width="50.5" height="30.3" fill="#f8c4b2"/><rect x="150" width="50.5" height="30.3" fill="#f5d4c8"/><rect x="200" width="50.5" height="30.3" fill="#dcd6f0"/><rect x="250" width="50.5" height="30.3" fill="#d0c4f0"/><rect x="300" width="50.5" height="30.3" fill="#9474f5"/><rect x="350" width="50" height="30.3" fill="#6840f8"/></g>
<g transform="translate(0,865.36)"><rect x="0" width="50.5" height="30.3" fill="#ff3a1c"/><rect x="50" width="50.5" height="30.3" fill="#f8b6a0"/><rect x="100" width="50.5" height="30.3" fill="#f8b49c"/><rect x="150" width="50.5" height="30.3" fill="#efe6e4"/><rect x="200" width="50.5" height="30.3" fill="#d8d0f0"/><rect x="250" width="50.5" height="30.3" fill="#d0c4f0"/><rect x="300" width="50.5" height="30.3" fill="#9474f5"/><rect x="350" width="50" height="30.3" fill="#7c56f8"/></g>
<g transform="translate(0,895.2)"><rect x="0" width="50.5" height="30.3" fill="#ff2a10"/><rect x="50" width="50.5" height="30.3" fill="#f8b09a"/><rect x="100" width="50.5" height="30.3" fill="#f8cabc"/><rect x="150" width="50.5" height="30.3" fill="#eee6e4"/><rect x="200" width="50.5" height="30.3" fill="#dcd6f0"/><rect x="250" width="50.5" height="30.3" fill="#b8a0f2"/><rect x="300" width="50.5" height="30.3" fill="#9c7cf5"/><rect x="350" width="50" height="30.3" fill="#8866f8"/></g>
<g transform="translate(0,925.04)"><rect x="0" width="50.5" height="30.3" fill="#ff4020"/><rect x="50" width="50.5" height="30.3" fill="#f8c4b2"/><rect x="100" width="50.5" height="30.3" fill="#f5d4ca"/><rect x="150" width="50.5" height="30.3" fill="#f8a68e"/><rect x="200" width="50.5" height="30.3" fill="#cabcf0"/><rect x="250" width="50.5" height="30.3" fill="#d4caf0"/><rect x="300" width="50.5" height="30.3" fill="#b49cf2"/><rect x="350" width="50" height="30.3" fill="#6a40f8"/></g>
<g transform="translate(0,954.88)"><rect x="0" width="50.5" height="30.3" fill="#ff4020"/><rect x="50" width="50.5" height="30.3" fill="#f8c8b6"/><rect x="100" width="50.5" height="30.3" fill="#f8aa92"/><rect x="150" width="50.5" height="30.3" fill="#f8a890"/><rect x="200" width="50.5" height="30.3" fill="#b8a0f2"/><rect x="250" width="50.5" height="30.3" fill="#dcd6f0"/><rect x="300" width="50.5" height="30.3" fill="#9474f5"/><rect x="350" width="50" height="30.3" fill="#7c56f8"/></g>
<g transform="translate(0,984.72)"><rect x="0" width="50.5" height="30.3" fill="#ff2a10"/><rect x="50" width="50.5" height="30.3" fill="#f8c8b6"/><rect x="100" width="50.5" height="30.3" fill="#f8c8b6"/><rect x="150" width="50.5" height="30.3" fill="#f8b09a"/><rect x="200" width="50.5" height="30.3" fill="#b8a0f2"/><rect x="250" width="50.5" height="30.3" fill="#d8d0f0"/><rect x="300" width="50.5" height="30.3" fill="#9474f5"/><rect x="350" width="50" height="30.3" fill="#8460f8"/></g>
<g transform="translate(0,1014.56)"><rect x="0" width="50.5" height="30.3" fill="#ff4424"/><rect x="50" width="50.5" height="30.3" fill="#f8b8a2"/><rect x="100" width="50.5" height="30.3" fill="#f8a088"/><rect x="150" width="50.5" height="30.3" fill="#f8c4b2"/><rect x="200" width="50.5" height="30.3" fill="#d4caf0"/><rect x="250" width="50.5" height="30.3" fill="#dcd6f0"/><rect x="300" width="50.5" height="30.3" fill="#9474f5"/><rect x="350" width="50" height="30.3" fill="#7048f8"/></g>
<g transform="translate(0,1044.4)"><rect x="0" width="50.5" height="30.3" fill="#f8684a"/><rect x="50" width="50.5" height="30.3" fill="#f89c80"/><rect x="100" width="50.5" height="30.3" fill="#f8b8a2"/><rect x="150" width="50.5" height="30.3" fill="#f8c4b2"/><rect x="200" width="50.5" height="30.3" fill="#ecebef"/><rect x="250" width="50.5" height="30.3" fill="#b8a0f2"/><rect x="300" width="50.5" height="30.3" fill="#5030f8"/><rect x="350" width="50" height="30.3" fill="#b098f2"/></g>
<g transform="translate(0,1074.24)"><rect x="0" width="50.5" height="30.3" fill="#ff1005"/><rect x="50" width="50.5" height="30.3" fill="#f8c4b2"/><rect x="100" width="50.5" height="30.3" fill="#f8b8a2"/><rect x="150" width="50.5" height="30.3" fill="#e6e2ee"/><rect x="200" width="50.5" height="30.3" fill="#dcd6f0"/><rect x="250" width="50.5" height="30.3" fill="#ac90f2"/><rect x="300" width="50.5" height="30.3" fill="#ac90f2"/><rect x="350" width="50" height="30.3" fill="#ac90f2"/></g>
<g transform="translate(0,1104.08)"><rect x="0" width="50.5" height="30.3" fill="#ff2a10"/><rect x="50" width="50.5" height="30.3" fill="#f8b8a2"/><rect x="100" width="50.5" height="30.3" fill="#f8b09a"/><rect x="150" width="50.5" height="30.3" fill="#e6e2ee"/><rect x="200" width="50.5" height="30.3" fill="#d8d0f0"/><rect x="250" width="50.5" height="30.3" fill="#ac90f2"/><rect x="300" width="50.5" height="30.3" fill="#8c6af8"/><rect x="350" width="50" height="30.3" fill="#c0acf2"/></g>
<g transform="translate(0,1133.92)"><rect x="0" width="50.5" height="30.3" fill="#ff3418"/><rect x="50" width="50.5" height="30.3" fill="#f8ac94"/><rect x="100" width="50.5" height="30.3" fill="#f8b8a2"/><rect x="150" width="50.5" height="30.3" fill="#ece6e8"/><rect x="200" width="50.5" height="30.3" fill="#dcd6f0"/><rect x="250" width="50.5" height="30.3" fill="#b098f2"/><rect x="300" width="50.5" height="30.3" fill="#9474f5"/><rect x="350" width="50" height="30.3" fill="#9c7cf5"/></g>
<g transform="translate(0,1163.76)"><rect x="0" width="50.5" height="30.3" fill="#ff4424"/><rect x="50" width="50.5" height="30.3" fill="#f8a086"/><rect x="100" width="50.5" height="30.3" fill="#f8ac94"/><rect x="150" width="50.5" height="30.3" fill="#ece6e8"/><rect x="200" width="50.5" height="30.3" fill="#cabcf0"/><rect x="250" width="50.5" height="30.3" fill="#b8a0f2"/><rect x="300" width="50.5" height="30.3" fill="#a080f5"/><rect x="350" width="50" height="30.3" fill="#8c66f8"/></g>
<g transform="translate(0,1193.6)"><rect x="0" width="50.5" height="30.3" fill="#ff4424"/><rect x="50" width="50.5" height="30.3" fill="#f8b49c"/><rect x="100" width="50.5" height="30.3" fill="#f8ac94"/><rect x="150" width="50.5" height="30.3" fill="#eee6e4"/><rect x="200" width="50.5" height="30.3" fill="#eee6e4"/><rect x="250" width="50.5" height="30.3" fill="#a888f5"/><rect x="300" width="50.5" height="30.3" fill="#8c6af8"/><rect x="350" width="50" height="30.3" fill="#9474f5"/></g>
<g transform="translate(0,1223.44)"><rect x="0" width="50.5" height="30.3" fill="#ff3418"/><rect x="50" width="50.5" height="30.3" fill="#f8b8a2"/><rect x="100" width="50.5" height="30.3" fill="#f8b09a"/><rect x="150" width="50.5" height="30.3" fill="#ece6e8"/><rect x="200" width="50.5" height="30.3" fill="#eee6e4"/><rect x="250" width="50.5" height="30.3" fill="#b098f2"/><rect x="300" width="50.5" height="30.3" fill="#9474f5"/><rect x="350" width="50" height="30.3" fill="#9474f5"/></g>
<g transform="translate(0,1253.28)"><rect x="0" width="50.5" height="29.84" fill="#ff5030"/><rect x="50" width="50.5" height="29.84" fill="#f8c0ac"/><rect x="100" width="50.5" height="29.84" fill="#f8b49c"/><rect x="150" width="50.5" height="29.84" fill="#f8c4b2"/><rect x="200" width="50.5" height="29.84" fill="#eee6e4"/><rect x="250" width="50.5" height="29.84" fill="#c0acf2"/><rect x="300" width="50.5" height="29.84" fill="#9474f5"/><rect x="350" width="50" height="29.84" fill="#7c56f8"/></g>
</g>

<!-- Panel b row labels -->
<g transform="translate(245,0) scale(1.1,1)" font-size="29" font-style="italic" text-anchor="end" fill="#111">
<text y="1169.4">Pdk1</text><text y="1199.2">Pcx</text><text y="1229.1">D2hgdh</text><text y="1258.9">Acss1</text><text y="1288.8">Akap1</text><text y="1318.6">Nt5dc3</text><text y="1348.4">Opa1</text><text y="1378.3">Pdpr</text><text y="1408.1">Acot11</text><text y="1438">Fam210a</text><text y="1467.8">Msrb3</text><text y="1497.6">Mfn2</text><text y="1527.5">Ogdh</text><text y="1557.3">Oxld1</text><text y="1587.2">Cox20</text><text y="1617">Gpx4</text><text y="1646.8">Dbi</text><text y="1676.7">Ndufa5</text><text y="1706.5">Prdx5</text><text y="1736.4">Micos10</text><text y="1766.2">Atp5e</text><text y="1796">Ndufa2</text><text y="1825.9">Mrpl20</text><text y="1855.7">Tmem205</text><text y="1885.6">Chchd1</text><text y="1915.4">Ndufb2</text><text y="1945.2">Uqcr11</text><text y="1975.1">Cox17</text><text y="2004.9">Ndufs6</text><text y="2034.8">Ndufc1</text><text y="2064.6">Ndufb9</text><text y="2094.4">Ndufa6</text><text y="2124.3">Acot13</text><text y="2154.1">Fam162a</text><text y="2184">Ndufv3</text><text y="2213.8">Sod1</text><text y="2243.6">Fis1</text><text y="2273.5">Atp5mpl</text><text y="2303.3">Ndufa4</text><text y="2333.2">Ndufa9</text><text y="2363">Cox6c</text><text y="2392.8">Atp5j2</text><text y="2422.7">Ndufa1</text>
</g>

<!-- Panel b column labels -->
<g font-size="25" text-anchor="end" fill="#111">
<text transform="translate(264,1133) rotate(90)" textLength="112" lengthAdjust="spacingAndGlyphs">F_KO_4</text>
<text transform="translate(314,1133) rotate(90)" textLength="112" lengthAdjust="spacingAndGlyphs">F_KO_1</text>
<text transform="translate(364,1133) rotate(90)" textLength="112" lengthAdjust="spacingAndGlyphs">F_KO_3</text>
<text transform="translate(414,1133) rotate(90)" textLength="112" lengthAdjust="spacingAndGlyphs">F_KO_2</text>
<text transform="translate(464,1133) rotate(90)" textLength="112" lengthAdjust="spacingAndGlyphs">F_FC_3</text>
<text transform="translate(514,1133) rotate(90)" textLength="112" lengthAdjust="spacingAndGlyphs">F_FC_1</text>
<text transform="translate(564,1133) rotate(90)" textLength="112" lengthAdjust="spacingAndGlyphs">F_FC_2</text>
<text transform="translate(614,1133) rotate(90)" textLength="112" lengthAdjust="spacingAndGlyphs">F_FC_4</text>
</g>

<!-- Panel b dendrograms -->
<g fill="none" stroke="#3a3a3a" stroke-width="2.2">
<path d="M327 1006.5V997H377V1006.5M352 997V992H427V1006.5M277 1006.5V966.5H389.5V992M477 1006.5V989H527V1006.5M577 1006.5V992H627V1006.5M502 989V979H602V992M333 966.5V930.6H552V979"/>
<path d="M90 1158.9H80V1188.8H90M80 1173.9H72V1218.6H90M55 1248.5H90M90 1278.3H73V1308.1H90M73 1293.2H67V1338H90M90 1367.8H73V1397.7H90M67 1315.6H60V1382.7H73M90 1457.3H80V1487.2H90M90 1427.5H78V1472.3H80M78 1449.9H68V1517H90M60 1349.2H62V1483.5H68M72 1196.2H50V1300H55V1416.3H62M13 1250H50"/>
<path d="M90 1546.9H72V1576.7H90M90 1606.6H83V1636.4H90M90 1666.2H83V1696.1H90M90 1725.9H83V1785.6H90M83 1755.8H90M90 1815.4H83V1875.1H90M83 1845.3H90M90 1905H84V1934.8H90M90 1964.7H84V1994.5H90M90 2024.3H84V2054.2H90M83 1621.5H80V2039.3H84M80 1681.2H83M80 1755.8H83M80 1845.3H83M80 1919.9H84M80 1979.6H84M90 2084H83V2143.7H90M83 2113.9H90M83 2113.9H78V2173.6H90M72 1561.8H69V2143.7H78M69 1830H80M67 1771H69M90 2203.4H70M90 2233.2H84V2263.1H90M90 2292.9H84V2322.8H90M90 2352.6H83V2412.3H90M83 2382.4H90M84 2248.2H78V2382.4H83M78 2307.9H84M72 2203.4V2315H78M67 2252H72M67 1771V2252M13 2016H67M13 1250V2016"/>
</g>

<!-- Panel b colorbar -->
<rect x="299" y="2441" width="307" height="32" fill="url(#cb)"/>
<g stroke="#fff" stroke-width="2" opacity="0.8">
<path d="M305 2441v5M378 2441v5M451 2441v5M523 2441v5M596 2441v5M305 2473v-5M378 2473v-5M451 2473v-5M523 2473v-5M596 2473v-5"/>
</g>
<g font-size="27" text-anchor="middle" fill="#222">
<text x="305" y="2499">-2</text><text x="378" y="2499">-1</text><text x="451" y="2499">0</text><text x="523" y="2499">1</text><text x="596" y="2499">2</text>
</g>

<!-- Panel c -->
<text x="1506" y="1101" font-size="60" font-weight="bold" text-anchor="middle" textLength="157" lengthAdjust="spacingAndGlyphs">Heart</text>
<text transform="translate(1021,1420) rotate(-90)" font-size="46" font-weight="bold" text-anchor="middle" textLength="272" lengthAdjust="spacingAndGlyphs">MtDNA ratio</text>
<g stroke="#000" stroke-width="4.5" fill="none">
<path d="M1129 1168V1676M1127 1674H1886"/>
<path d="M1110 1170.6H1129M1110 1271H1129M1110 1372H1129M1110 1472H1129M1110 1573H1129M1110 1674H1129"/>
<path d="M1304 1674V1694M1708 1674V1694"/>
<path d="M1227 1311V1287H1379V1311M1634 1211V1188H1787V1211"/>
<path d="M1179 1472H1280M1331 1553H1432M1583 1370H1682M1735 1461H1835" stroke-width="4"/>
</g>
<path d="M1509 1162V1665" stroke="#000" stroke-width="3" stroke-dasharray="14 7"/>
<g font-size="33" font-weight="bold" text-anchor="end">
<text x="1101" y="1182.6" textLength="52" lengthAdjust="spacingAndGlyphs">2.5</text>
<text x="1101" y="1283" textLength="52" lengthAdjust="spacingAndGlyphs">2.0</text>
<text x="1101" y="1384" textLength="52" lengthAdjust="spacingAndGlyphs">1.5</text>
<text x="1101" y="1484" textLength="52" lengthAdjust="spacingAndGlyphs">1.0</text>
<text x="1101" y="1585" textLength="52" lengthAdjust="spacingAndGlyphs">0.5</text>
<text x="1101" y="1686" textLength="52" lengthAdjust="spacingAndGlyphs">0.0</text>
</g>
<text x="1306" y="1744" font-size="46" font-weight="bold" text-anchor="middle" textLength="165" lengthAdjust="spacingAndGlyphs">Female</text>
<text x="1708" y="1744" font-size="46" font-weight="bold" text-anchor="middle" textLength="104" lengthAdjust="spacingAndGlyphs">Male</text>
<text x="1227" y="1262" font-size="40" textLength="152" lengthAdjust="spacingAndGlyphs">P=0.113</text>
<text x="1682" y="1161" font-size="40" textLength="54" lengthAdjust="spacingAndGlyphs">NS</text>
<g fill="#000">
<circle cx="1229" cy="1352" r="10"/><circle cx="1229" cy="1423" r="10"/><circle cx="1229" cy="1482" r="10"/><circle cx="1249" cy="1540" r="10"/><circle cx="1209" cy="1558" r="10"/>
<circle cx="1630" cy="1244" r="10"/><circle cx="1630" cy="1418" r="10"/><circle cx="1630" cy="1443" r="10"/>
<circle cx="2024" cy="1202" r="10"/>
</g>
<g fill="#fff" stroke="#000" stroke-width="3.5">
<circle cx="1360" cy="1500" r="9"/><circle cx="1400" cy="1514" r="9"/><circle cx="1360" cy="1540" r="9"/><circle cx="1400" cy="1558" r="9"/><circle cx="1379" cy="1641" r="9"/>
<circle cx="1782" cy="1405" r="9"/><circle cx="1761" cy="1491" r="9"/><circle cx="1803" cy="1482" r="9"/>
<circle cx="2024" cy="1271" r="9"/>
</g>
<text x="2080" y="1216" font-size="40" textLength="54" lengthAdjust="spacingAndGlyphs">FC</text>
<text x="2080" y="1285" font-size="40" textLength="56" lengthAdjust="spacingAndGlyphs">KO</text>
</svg>
</body></html>
